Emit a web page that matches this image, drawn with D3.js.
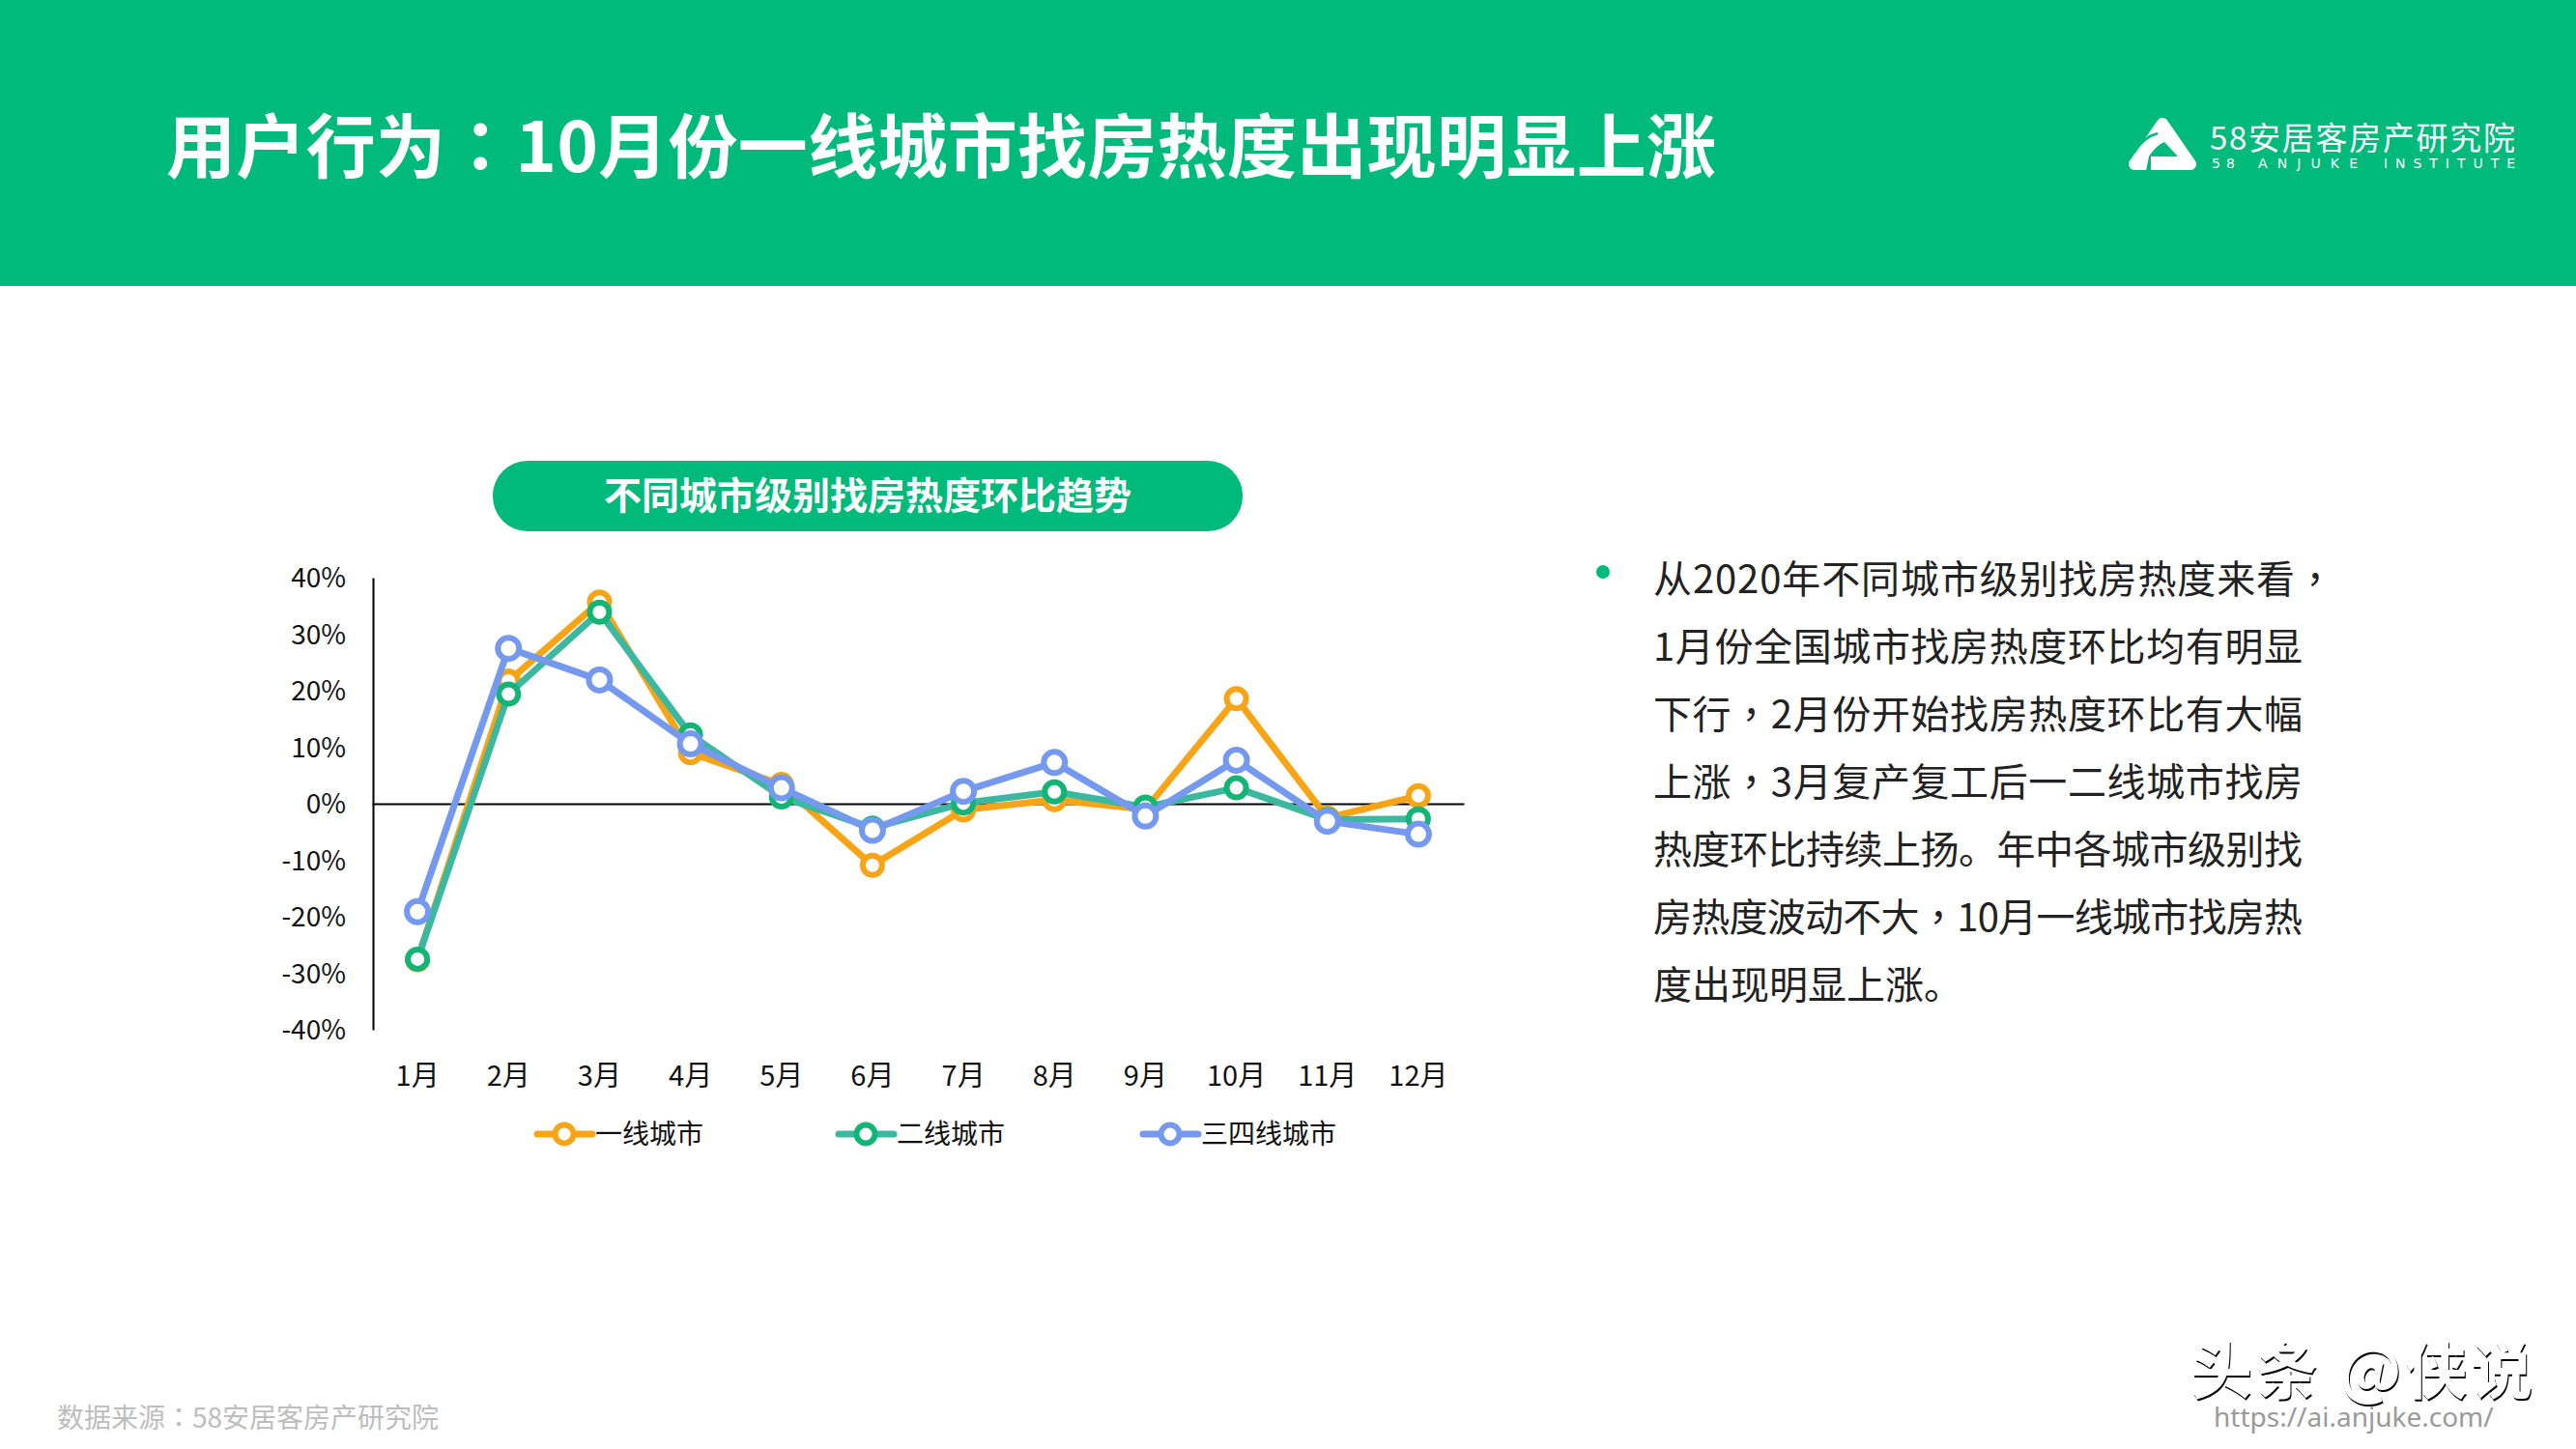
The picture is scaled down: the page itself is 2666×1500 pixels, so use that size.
<!DOCTYPE html>
<html>
<head>
<meta charset="utf-8">
<script src="https://cdn.jsdelivr.net/npm/d3@7"></script>
<style>
	html, body { margin: 0; padding: 0; background: #fff; }
	svg { display: block; }
	text { font-family: "Noto Sans CJK SC", "Noto Sans", sans-serif; }
</style>
</head>
<body>
<svg id="chart" width="2666" height="1500"></svg>
<script>
const months = ["1月", "2月", "3月", "4月", "5月", "6月", "7月", "8月", "9月", "10月", "11月", "12月"];
const tier1 = [-27.6, 21.7, 35.7, 9.0, 3.4, -10.9, -1.1, 0.7, -1.0, 18.6, -2.5, 1.4];
const tier2 = [-27.5, 19.4, 33.9, 12.2, 1.2, -4.3, 0.1, 2.1, -0.6, 2.8, -2.8, -2.7];
const tier3 = [-19.1, 27.5, 21.9, 10.6, 2.8, -4.7, 2.2, 7.3, -2.2, 7.7, -3.1, -5.4];
const yTicks = [-40, -30, -20, -10, 0, 10, 20, 30, 40];
const legendNames = ["一线城市", "二线城市", "三四线城市"];
const bodyLines = [
	"从2020年不同城市级别找房热度来看，",
	"1月份全国城市找房热度环比均有明显",
	"下行，2月份开始找房热度环比有大幅",
	"上涨，3月复产复工后一二线城市找房",
	"热度环比持续上扬。年中各城市级别找",
	"房热度波动不大，10月一线城市找房热",
	"度出现明显上涨。"
];

const green = "#00BA7B";
const svg = d3.select("#chart");

// the TC font centres full-width punctuation the way the slide does
function punctText(sel, str) {
	str.split(/([，：])/).forEach(part => {
		if(part === "") return;
		const t = sel.append("tspan").text(part);
		if(part === "，" || part === "：") t.style("font-family", '"Noto Sans CJK TC"');
	});
}

// eats the top left edge of the glyphs, the watermark looks cut like this
const cut = svg.append("defs").append("filter").attr("id", "cut")
	.attr("x", "-5%").attr("y", "-10%").attr("width", "110%").attr("height", "120%");
cut.append("feOffset").attr("in", "SourceGraphic").attr("dx", -1).attr("dy", -1.6).attr("result", "moved");
cut.append("feComposite").attr("in", "SourceGraphic").attr("in2", "moved").attr("operator", "out");

// header band
svg.append("rect").attr("width", 2666).attr("height", 296).attr("fill", green);
svg.append("text").attr("x", 172).attr("y", 178)
	.attr("font-size", 72).attr("font-weight", 700).attr("fill", "#fff")
	.attr("textLength", 1604).attr("lengthAdjust", "spacing")
	.call(punctText, "用户行为：10月份一线城市找房热度出现明显上涨");

// logo
const logo = svg.append("g");
logo.append("path")
	.attr("d", "M2238 128 L2267 170 L2209 170 Z")
	.attr("fill", "#fff").attr("stroke", "#fff").attr("stroke-width", 12).attr("stroke-linejoin", "round");
logo.append("path")
	.attr("d", "M2221 177 L2224 162 Q2232 150 2240 147 L2254 162 L2226 162 L2226 177 Z")
	.attr("fill", green);
logo.append("path")
	.attr("d", "M2209 158 Q2218 142 2233 138")
	.attr("fill", "none").attr("stroke", green).attr("stroke-width", 2.5);
svg.append("text").attr("x", 2287).attr("y", 155).attr("font-size", 33).attr("fill", "#fff")
	.attr("textLength", 316).attr("lengthAdjust", "spacing").text("58安居客房产研究院");
const logoWords = [["58", 2289, 24], ["ANJUKE", 2337, 103], ["INSTITUTE", 2467, 136]];
logoWords.forEach(w => {
	svg.append("text").attr("x", w[1]).attr("y", 174).attr("font-size", 14).attr("fill", "#fff")
		.style("font-family", '"DejaVu Sans"')
		.attr("textLength", w[2]).attr("lengthAdjust", "spacing").text(w[0]);
});

// chart title pill
svg.append("rect").attr("x", 510).attr("y", 477).attr("width", 776).attr("height", 73).attr("rx", 36).attr("fill", green);
svg.append("text").attr("x", 898).attr("y", 527).attr("text-anchor", "middle")
	.attr("font-size", 39).attr("font-weight", 700).attr("fill", "#fff")
	.text("不同城市级别找房热度环比趋势");

// scales and axes
const x = d3.scaleBand().domain(months).range([385, 1515]);
const y = d3.scaleLinear().domain([-40, 40]).range([1066, 598]);
const cx = m => x(m) + x.bandwidth() / 2;

const yAxis = svg.append("g").attr("transform", "translate(386,0)")
	.call(d3.axisLeft(y).tickValues(yTicks).tickSize(0).tickPadding(28).tickFormat(d => d + "%"));
yAxis.select(".domain").attr("stroke", "#000").attr("stroke-width", 2);
yAxis.selectAll("text").attr("font-size", 28).attr("fill", "#111").attr("dy", "0.34em").style("font-family", '"Noto Sans CJK SC"');

const zeroAxis = svg.append("g").attr("transform", "translate(0," + y(0) + ")")
	.call(d3.axisBottom(x).tickSize(0).tickPadding(1).tickFormat(""));
zeroAxis.select(".domain").attr("stroke", "#000").attr("stroke-width", 2);

const xAxis = svg.append("g").attr("transform", "translate(0,1103)")
	.call(d3.axisBottom(x).tickSize(0).tickPadding(0));
xAxis.select(".domain").remove();
xAxis.selectAll("text").attr("font-size", 29).attr("fill", "#111").style("font-family", '"Noto Sans CJK SC"');

// series
const seriesList = [
	{ values: tier1, line: "#F7A516", mark: "#F7A516" },
	{ values: tier2, line: "#3DB8A0", mark: "#12B576" },
	{ values: tier3, line: "#7499EE", mark: "#7499EE" }
];
const lineGen = d3.line().x((d, i) => cx(months[i])).y(d => y(d));

seriesList.forEach(s => {
	svg.append("path").datum(s.values).attr("d", lineGen)
		.attr("fill", "none").attr("stroke", s.line).attr("stroke-width", 7).attr("stroke-linejoin", "round");
	svg.append("g").selectAll("circle").data(s.values).enter().append("circle")
		.attr("cx", (d, i) => cx(months[i])).attr("cy", d => y(d))
		.attr("r", s.mark == "#7499EE" ? 11 : 10)
		.attr("fill", "#fff").attr("stroke", s.mark).attr("stroke-width", 6);
});

// legend
const legendX = d3.scaleOrdinal().domain(legendNames).range([556, 868, 1183]);
legendNames.forEach((name, i) => {
	const s = seriesList[i];
	const lx = legendX(name);
	svg.append("line").attr("x1", lx).attr("x2", lx + 57).attr("y1", 1174).attr("y2", 1174)
		.attr("stroke", s.line).attr("stroke-width", 7).attr("stroke-linecap", "round");
	svg.append("circle").attr("cx", lx + 28).attr("cy", 1174).attr("r", 9.5)
		.attr("fill", "#fff").attr("stroke", s.mark).attr("stroke-width", 6);
	svg.append("text").attr("x", lx + 60).attr("y", 1184).attr("font-size", 28).attr("fill", "#111").text(name);
});

// right side text, lines are justified on the slide
svg.append("circle").attr("cx", 1659).attr("cy", 592).attr("r", 7).attr("fill", green);
bodyLines.forEach((line, i) => {
	const t = svg.append("text").attr("x", 1711).attr("y", 614 + i * 70)
		.attr("font-size", 40).attr("fill", "#222");
	if(i < bodyLines.length - 1) t.attr("textLength", i === 0 ? 705 : 672).attr("lengthAdjust", "spacing");
	t.call(punctText, line);
});

// footer
svg.append("text").attr("x", 59).attr("y", 1478).attr("font-size", 28).attr("fill", "#bdbdbd")
	.call(punctText, "数据来源：58安居客房产研究院");
svg.append("text").attr("x", 2268).attr("y", 1444).attr("font-size", 64).attr("font-weight", 700).attr("fill", "#000")
	.attr("textLength", 354).attr("lengthAdjust", "spacing").attr("filter", "url(#cut)")
	.text("头条 @侠说");
svg.append("text").attr("x", 2291).attr("y", 1477).attr("font-size", 28).attr("fill", "#9a9a9a")
	.style("font-family", '"Noto Sans"').text("https://ai.anjuke.com/");
</script>
</body>
</html>
